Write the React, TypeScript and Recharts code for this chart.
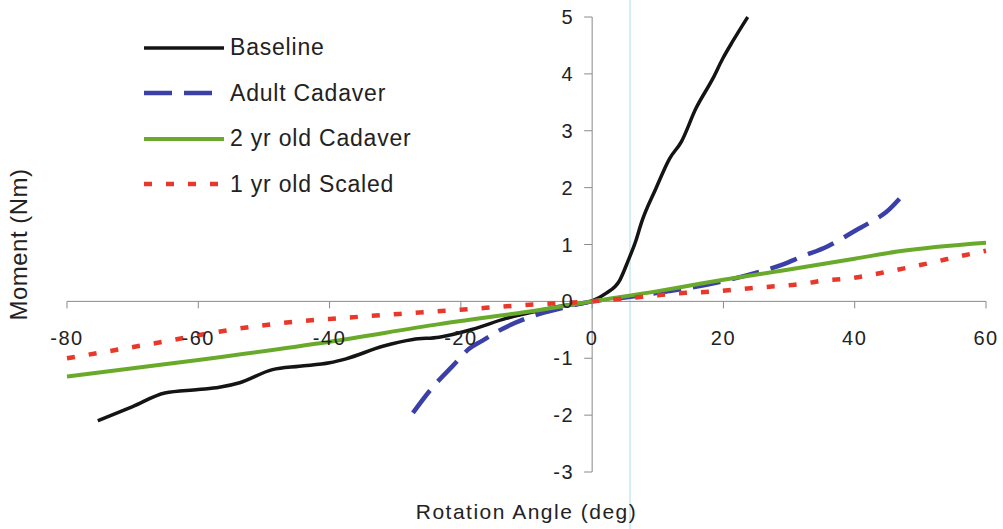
import React from 'react';
import { LineChart, Line, XAxis, YAxis, ReferenceLine, Legend } from 'recharts';

// --- data ---
const baselineX = [-75.3, -70, -65.1, -60, -56.8, -53.7, -48.7, -44.6, -40, -37.5, -31.9, -27.3, -23.3, -18.2, -13.1, -8, -4, -1.4, 0, 2.1, 4.2, 5.5, 6.7, 7.5, 9.7, 11.8, 13.6, 15.8, 18.4, 19.9, 21.4, 23.7];
const baselineY = [-2.1, -1.85, -1.61, -1.55, -1.51, -1.43, -1.2, -1.14, -1.08, -1.01, -0.79, -0.67, -0.63, -0.49, -0.3, -0.16, -0.07, -0.04, 0.01, 0.14, 0.37, 0.72, 1.08, 1.38, 1.98, 2.51, 2.81, 3.39, 3.92, 4.27, 4.57, 5.0];

const adultX = [-27.3, -24.3, -21.2, -18.7, -16.7, -14.1, -8, -4, 0, 5, 10, 15, 19.4, 25.5, 29.3, 31.8, 35.9, 40.2, 42.5, 44.8, 47.1];
const adultY = [-1.96, -1.51, -1.13, -0.83, -0.69, -0.51, -0.22, -0.1, 0, 0.07, 0.15, 0.24, 0.34, 0.52, 0.66, 0.78, 0.97, 1.25, 1.4, 1.57, 1.84];

const twoYrX = [-80, -60, -40, -23.3, -8, 0, 10, 16.4, 20, 30, 40, 46.8, 60];
const twoYrY = [-1.32, -1.03, -0.71, -0.4, -0.15, 0, 0.18, 0.31, 0.38, 0.56, 0.75, 0.88, 1.03];

const oneYrX = [-80, -64.4, -57.8, -41.5, -39, -29.4, -21.7, -14.6, -11.1, 0, 7.7, 14.3, 17.9, 25, 32.1, 35.6, 38.9, 42.2, 45.3, 48.8, 52.4, 55.9, 60];
const oneYrY = [-1.0, -0.69, -0.55, -0.32, -0.3, -0.22, -0.16, -0.1, -0.07, 0, 0.08, 0.15, 0.17, 0.24, 0.31, 0.37, 0.4, 0.46, 0.53, 0.61, 0.7, 0.79, 0.89];

const xTicks = [-80, -60, -40, -20, 0, 20, 40, 60];
const yTicks = [-3, -2, -1, 0, 1, 2, 3, 4, 5];

const toPoints = (xs: number[], ys: number[]) => xs.map((x, i) => ({ x, y: ys[i] }));

const series = [
  { name: 'Baseline', data: toPoints(baselineX, baselineY), color: '#141414', width: 3.5, dash: undefined },
  { name: 'Adult Cadaver', data: toPoints(adultX, adultY), color: '#3b40a8', width: 4.5, dash: '28 12' },
  { name: '2 yr old Cadaver', data: toPoints(twoYrX, twoYrY), color: '#6aaa2a', width: 4, dash: undefined },
  { name: '1 yr old Scaled', data: toPoints(oneYrX, oneYrY), color: '#e8382a', width: 4.5, dash: '8 14' },
];

// layout
const W = 1003;
const H = 529;
const MARGIN = { top: 17, right: 17, left: 7, bottom: 0 };
const Y_AXIS_W = 60;
const X_AXIS_H = 57;
const PLOT_LEFT = MARGIN.left + Y_AXIS_W;
const PLOT_W = W - PLOT_LEFT - MARGIN.right;
const PLOT_H = H - MARGIN.top - MARGIN.bottom - X_AXIS_H;
// axes cross at the origin
const ZERO_X = PLOT_LEFT + (PLOT_W * 80) / 140;
const ZERO_Y = MARGIN.top + (PLOT_H * 5) / 8;

const FONT = '"Liberation Sans", Arial, sans-serif';
const AXIS = '#8a8a8a';

const XTick = (props: any) => {
  const { x, payload } = props;
  return (
    <g>
      <line x1={x} x2={x} y1={ZERO_Y} y2={ZERO_Y + 7} stroke={AXIS} />
      <text x={x} y={ZERO_Y + 44} textAnchor="middle" fontFamily={FONT} fontSize={20} letterSpacing={1.5} fill="#222">
        {payload.value}
      </text>
    </g>
  );
};

const YTick = (props: any) => {
  const { y, payload } = props;
  return (
    <g>
      <line x1={ZERO_X - 8} x2={ZERO_X} y1={y} y2={y} stroke={AXIS} />
      <text x={ZERO_X - 18} y={y + 7} textAnchor="end" fontFamily={FONT} fontSize={20} letterSpacing={1.5} fill="#222">
        {payload.value}
      </text>
    </g>
  );
};

const renderLegend = () => (
  <div style={{ fontFamily: FONT, fontSize: 23, letterSpacing: 0.8, color: '#222' }}>
    {series.map((s) => (
      <div key={s.name} style={{ display: 'flex', alignItems: 'center', height: 45.5 }}>
        <svg width={80} height={10} style={{ display: 'block' }}>
          <line x1={0} x2={80} y1={5} y2={5} stroke={s.color} strokeWidth={s.width} strokeDasharray={s.dash} />
        </svg>
        <span style={{ marginLeft: 6, lineHeight: 1 }}>{s.name}</span>
      </div>
    ))}
  </div>
);

export default function App() {
  return (
    <div style={{ position: 'absolute', left: 0, top: 0, width: W, height: H, background: '#fff' }}>
      <LineChart width={W} height={H} margin={MARGIN}>
        <XAxis
          type="number"
          dataKey="x"
          domain={[-80, 60]}
          ticks={xTicks}
          axisLine={false}
          tickLine={false}
          tick={<XTick />}
          height={X_AXIS_H}
          label={{
            value: 'Rotation Angle (deg)',
            position: 'insideBottom',
            offset: 10,
            style: { fontFamily: FONT, fontSize: 21, letterSpacing: 1.5, fill: '#222' },
          }}
        />
        <YAxis
          type="number"
          dataKey="y"
          domain={[-3, 5]}
          ticks={yTicks}
          axisLine={false}
          tickLine={false}
          tick={<YTick />}
          width={Y_AXIS_W}
          label={{
            value: 'Moment (Nm)',
            angle: -90,
            position: 'insideLeft',
            offset: 11,
            style: { textAnchor: 'middle', fontFamily: FONT, fontSize: 24, letterSpacing: 0.5, fill: '#222' },
          }}
        />
        <ReferenceLine
          segment={[{ x: 5.77, y: 5.35 }, { x: 5.77, y: -4.0 }]}
          ifOverflow="visible"
          stroke="#c4e8f2"
          strokeWidth={1.5}
        />
        <ReferenceLine y={0} stroke={AXIS} strokeWidth={1} />
        <ReferenceLine x={0} stroke={AXIS} strokeWidth={1} />
        {series.map((s) => (
          <Line
            key={s.name}
            data={s.data}
            dataKey="y"
            name={s.name}
            type="monotone"
            stroke={s.color}
            strokeWidth={s.width}
            strokeDasharray={s.dash}
            dot={false}
            activeDot={false}
            isAnimationActive={false}
          />
        ))}
        <Legend
          layout="vertical"
          align="center"
          verticalAlign="middle"
          content={renderLegend}
          wrapperStyle={{ left: 144, top: 25, width: 300, height: 182 }}
        />
      </LineChart>
    </div>
  );
}
